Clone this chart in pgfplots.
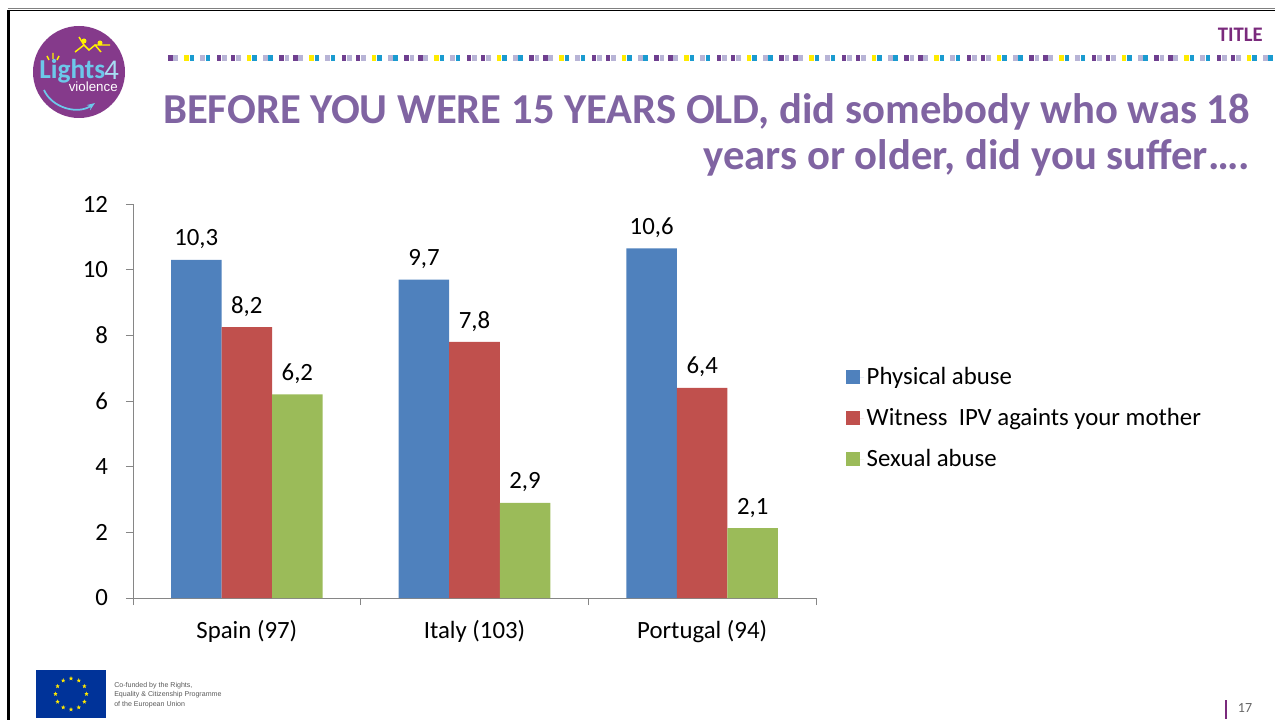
\documentclass[border=0pt]{standalone}
\usepackage{fontspec}
\setmainfont{Carlito}
\newfontfamily\arialf{Liberation Sans}
\usepackage{pgfplots}
\pgfplotsset{compat=1.18}
\usetikzlibrary{shapes.geometric,arrows.meta,calc}
\definecolor{tpurple}{HTML}{8064A2}
\definecolor{tdark}{HTML}{7A2A7C}
\definecolor{logop}{HTML}{853A8B}
\definecolor{logob}{HTML}{6CC8EA}
\definecolor{sA}{HTML}{4F81BD}
\definecolor{sB}{HTML}{C0504D}
\definecolor{sC}{HTML}{9BBB59}
\definecolor{axg}{HTML}{868686}
\definecolor{stp}{HTML}{6F3F8F}
\definecolor{stb}{HTML}{1A9BD0}
\definecolor{sty}{HTML}{FFEB00}
\definecolor{stl}{HTML}{B8B4D6}
\definecolor{euflag}{HTML}{003399}
\begin{document}
\begin{tikzpicture}[x=0.75pt,y=-0.75pt]
\useasboundingbox (0,0) rectangle (1275,720);
% frame
\draw[line width=0.75pt,gray] (7.5,8.7) -- (1275,8.7);
\draw[line width=1.3pt,black] (8,10.4) -- (1275,10.4);
\draw[line width=2pt,black] (8.8,10) -- (8.8,720);
% strip
\foreach \g in {0,...,17}{
  \foreach \c/\col in {0/stp,1/stl,3/sty,4/stb,6/stl,7/stb,9/stp,10/stl}{
    \pgfmathsetmacro{\xa}{168+\g*62.5+\c*5.4}
    \fill[\col] (\xa,55) rectangle ++(4.6,6);
  }
}
% logo
\fill[logop] (79,72) circle (46);
\node[logob,font=\fontsize{20.5pt}{20.5pt}\selectfont\bfseries,anchor=base west,inner sep=0pt] at (39,79) {Lights};
\node[logob!60!white,font=\arialf\fontsize{20pt}{20pt}\selectfont,anchor=base west,inner sep=0pt] at (104,80) {4};
\node[white,font=\arialf\fontsize{10pt}{10pt}\selectfont,anchor=base east,inner sep=0pt] at (118,92) {violence};
\draw[logob,line width=1.3pt,-{Stealth[length=6pt]}] (44,90) .. controls (52,108) and (78,115) .. (95,103);
\draw[yellow,line width=1.1pt] (75,52) -- (84,45) -- (89,50) -- (95,45) -- (101,52) (79,37) -- (84,45) (95,45) -- (110,45);
\fill[yellow] (84,41) circle (2.5) (100,43) circle (2.5);
\draw[yellow,line width=1.1pt] (47,56) -- (49,60) (53,53) -- (53,59) (59,56) -- (57,60);
% title
\node[anchor=east,inner sep=0pt,text=tdark,font=\fontsize{15.5pt}{15.5pt}\selectfont\bfseries] at (1263,34.5) {TITLE};
\node[anchor=east,inner sep=0pt,text=tpurple,font=\fontsize{32pt}{32pt}\selectfont\bfseries] at (1250,112) {BEFORE YOU WERE 15 YEARS OLD, did somebody who was 18};
\node[anchor=east,inner sep=0pt,text=tpurple,font=\fontsize{32pt}{32pt}\selectfont\bfseries] at (1250,158) {years or older, did you suffer….};
% footer
\fill[euflag] (36,670) rectangle (106,718);
\foreach \a in {0,30,...,330}{
  \node[star,star points=5,star point ratio=2.4,fill=yellow!90!orange,inner sep=0pt,minimum size=3.5pt] at ($(71,694)+(\a:15.5)$) {};
}
\node[anchor=west,inner sep=0pt,text=black!65,align=left,font=\arialf\fontsize{5.3pt}{7.2pt}\selectfont] at (114,695) {Co-funded by the Rights,\\Equality \& Citizenship Programme\\of the European Union};
\draw[tdark,line width=1.1pt] (1226,700) -- (1226,719);
\node[inner sep=0pt,text=black!60,font=\fontsize{10.5pt}{10.5pt}\selectfont] at (1245,708) {17};
% chart
\begin{axis}[
  at={(99.75pt,-448.5pt)},anchor=south west,
  scale only axis,width=512.25pt,height=295.5pt,
  ybar=0pt,bar width=37.9pt,
  xmin=-0.5,xmax=2.5,ymin=0,ymax=12,
  axis x line*=bottom,axis y line*=left,
  axis line style={axg,-},
  xtick={0,1,2},xticklabels={Spain (97),Italy (103),Portugal (94)},
  minor xtick={-0.5,0.5,1.5,2.5},
  ytick={0,2,...,12},
  major x tick style={draw=none},
  tick align=outside,
  major tick length=5.25pt,minor tick length=5.25pt,
  tick style={axg,line width=0.6pt},
  tick label style={font=\fontsize{18.6pt}{18.6pt}\selectfont,text=black},
  yticklabel style={/pgf/number format/assume math mode=true,xshift=-10pt},
  xticklabel style={yshift=-8pt},
  ylabel={},
  point meta=explicit,
  nodes near coords,
  every node near coord/.append style={font=\fontsize{18.6pt}{18.6pt}\selectfont,text=black,yshift=4.5pt,
    /pgf/number format/.cd,fixed,fixed zerofill,precision=1,use comma,assume math mode=true},
  legend style={at={(1.044,0.4565)},anchor=west,draw=none,fill=none,
    font=\fontsize{18.6pt}{18.6pt}\selectfont,inner sep=0pt,
    /tikz/every even column/.append style={column sep=0pt},
    row sep=12.3pt},
  legend cell align=left,
  legend image code/.code={\fill[#1] (0cm,-5.25pt) rectangle (10.5pt,5.25pt);\path (0cm,0cm) rectangle (13.3pt,0pt);},
]
\addplot[fill=sA,draw=none] coordinates {(0,10.3) [10.3] (1,9.7) [9.7] (2,10.65) [10.6]};
\addplot[fill=sB,draw=none] coordinates {(0,8.25) [8.2] (1,7.8) [7.8] (2,6.4) [6.4]};
\addplot[fill=sC,draw=none] coordinates {(0,6.2) [6.2] (1,2.9) [2.9] (2,2.13) [2.1]};
\legend{Physical abuse,Witness\ \ IPV againts your mother,Sexual abuse}
\end{axis}
\end{tikzpicture}
\end{document}
